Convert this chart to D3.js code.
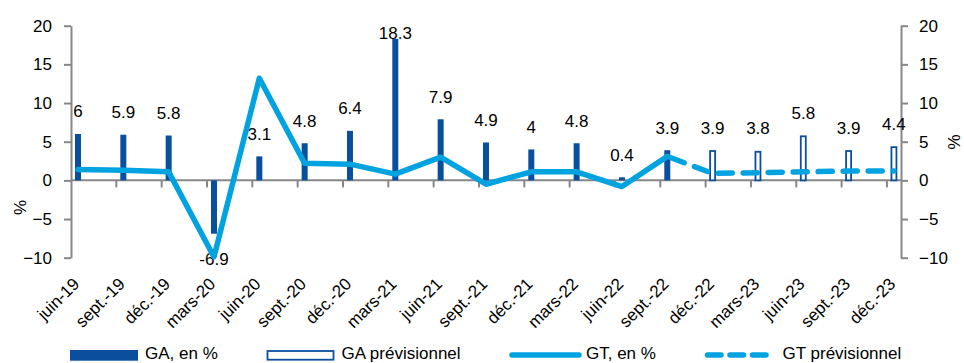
<!DOCTYPE html>
<html>
<head>
<meta charset="utf-8">
<script src="https://cdn.jsdelivr.net/npm/d3@7"></script>
<style>
  body { margin: 0; background: #fff; }
  svg { display: block; font-family: "Liberation Sans", Arial, sans-serif; }
</style>
</head>
<body>
<svg id="chart" width="964" height="363"></svg>
<script>
// Quarterly categories
const categories = ["juin-19", "sept.-19", "déc.-19", "mars-20", "juin-20", "sept.-20", "déc.-20",
  "mars-21", "juin-21", "sept.-21", "déc.-21", "mars-22", "juin-22", "sept.-22", "déc.-22",
  "mars-23", "juin-23", "sept.-23", "déc.-23"];

// GA, en % (realised) and GA prévisionnel (forecast)
const gaActual = [6, 5.9, 5.8, -6.9, 3.1, 4.8, 6.4, 18.3, 7.9, 4.9, 4, 4.8, 0.4, 3.9,
  null, null, null, null, null];
const gaForecast = [null, null, null, null, null, null, null, null, null, null, null, null, null, null,
  3.9, 3.8, 5.8, 3.9, 4.4];

// GT, en % (realised) and GT prévisionnel (forecast)
const gtActual = [1.4, 1.3, 1.1, -9.9, 13.2, 2.2, 2.1, 0.8, 3.0, -0.5, 1.1, 1.1, -0.8, 3.1,
  null, null, null, null, null];
const gtForecast = [null, null, null, null, null, null, null, null, null, null, null, null, null,
  3.1, 0.9, 1.0, 1.1, 1.2, 1.2];

const yTicks = [-10, -5, 0, 5, 10, 15, 20];

const legendItems = ["GA, en %", "GA prévisionnel", "GT, en %", "GT prévisionnel"];

// ---- styles ----
const DARK = "#0a4f9e";
const LIGHT = "#00a3e0";
const AXIS = "#878787";
const FONT = 17;

const svg = d3.select("#chart");
svg.append("rect").attr("width", 964).attr("height", 363).attr("fill", "#fff");

const left = 71, right = 901;
const step = 45.33;
const xBand = d3.scaleBand().domain(categories).range([left, left + step * categories.length]);
const px = c => xBand(c) + 7;          // where the quarter's bar and line point sit

const y = d3.scaleLinear().domain([-10, 20]).range([257.7, 25.7]);

// ---- axes ----
function styleAxis(g) {
  g.selectAll("path.domain").attr("stroke", AXIS).attr("stroke-width", 2);
  g.selectAll(".tick line").attr("stroke", AXIS).attr("stroke-width", 2);
  g.selectAll(".tick text").attr("fill", "#000").attr("font-size", FONT)
    .attr("font-family", "'Liberation Sans', Arial, sans-serif");
}

svg.append("g").attr("transform", `translate(${left},0)`)
  .call(d3.axisLeft(y).tickValues(yTicks).tickSize(7).tickSizeOuter(0).tickPadding(12))
  .call(styleAxis);

svg.append("g").attr("transform", `translate(${right},0)`)
  .call(d3.axisRight(y).tickValues(yTicks).tickSize(7).tickSizeOuter(0).tickPadding(11))
  .call(styleAxis);

// zero line with quarter ticks
const x0 = y(0);
svg.append("line").attr("x1", left).attr("x2", right).attr("y1", x0).attr("y2", x0)
  .attr("stroke", AXIS).attr("stroke-width", 2);
svg.append("g").selectAll("line").data(categories.slice(1)).join("line")
  .attr("x1", c => xBand(c)).attr("x2", c => xBand(c))
  .attr("y1", x0).attr("y2", x0 + 7)
  .attr("stroke", AXIS).attr("stroke-width", 2);

// category labels
svg.append("g").selectAll("text").data(categories).join("text")
  .attr("transform", c => `translate(${px(c) + 2.5},285) rotate(-45)`)
  .attr("text-anchor", "end")
  .attr("font-size", FONT).attr("fill", "#000")
  .text(c => c);

// axis titles
svg.append("text").attr("transform", "translate(26,207.5) rotate(-90)")
  .attr("text-anchor", "middle").attr("font-size", FONT).text("%");
svg.append("text").attr("transform", "translate(948,142) rotate(90)")
  .attr("text-anchor", "middle").attr("font-size", FONT).text("%");

// ---- bars ----
const barW = 6;
const actualBars = categories.map((c, i) => ({ c, v: gaActual[i] })).filter(d => d.v != null);
const forecastBars = categories.map((c, i) => ({ c, v: gaForecast[i] })).filter(d => d.v != null);

svg.append("g").selectAll("rect").data(actualBars).join("rect")
  .attr("x", d => px(d.c) - barW / 2).attr("width", barW)
  .attr("y", d => y(Math.max(0, d.v))).attr("height", d => Math.abs(y(d.v) - y(0)))
  .attr("fill", DARK);

svg.append("g").selectAll("rect").data(forecastBars).join("rect")
  .attr("x", d => px(d.c) - barW / 2 + 0.5).attr("width", barW - 1)
  .attr("y", d => y(Math.max(0, d.v)) + 0.8).attr("height", d => Math.abs(y(d.v) - y(0)) - 0.8)
  .attr("fill", "#fff").attr("stroke", DARK).attr("stroke-width", 1.8);

// bar value labels
const allBars = actualBars.concat(forecastBars);
svg.append("g").selectAll("text").data(allBars).join("text")
  .attr("x", d => px(d.c))
  .attr("y", d => d.v >= 0 ? Math.max(y(d.v) - 16.5, 38.5) : y(d.v) + 31)
  .attr("text-anchor", "middle").attr("font-size", FONT).attr("fill", "#000")
  .text(d => d.v);

// ---- lines ----
const line = d3.line()
  .defined(d => d.v != null)
  .x(d => px(d.c)).y(d => y(d.v));

svg.append("path")
  .datum(categories.map((c, i) => ({ c, v: gtActual[i] })))
  .attr("d", line).attr("fill", "none")
  .attr("stroke", LIGHT).attr("stroke-width", 5.5)
  .attr("stroke-linejoin", "round").attr("stroke-linecap", "round");

svg.append("path")
  .datum(categories.map((c, i) => ({ c, v: gtForecast[i] })))
  .attr("d", line).attr("fill", "none")
  .attr("stroke", LIGHT).attr("stroke-width", 5.5)
  .attr("stroke-dasharray", "14 11").attr("stroke-dashoffset", -4)
  .attr("stroke-linejoin", "round").attr("stroke-linecap", "round");

// ---- legend ----
const lg = svg.append("g");
lg.append("rect").attr("x", 70).attr("y", 350).attr("width", 68).attr("height", 10.7).attr("fill", DARK);
lg.append("rect").attr("x", 267.5).attr("y", 351).attr("width", 66).attr("height", 8.7)
  .attr("fill", "#fff").attr("stroke", DARK).attr("stroke-width", 1.8);
lg.append("line").attr("x1", 512).attr("x2", 579).attr("y1", 355).attr("y2", 355)
  .attr("stroke", LIGHT).attr("stroke-width", 5.5).attr("stroke-linecap", "round");
lg.append("line").attr("x1", 707.5).attr("x2", 766).attr("y1", 355).attr("y2", 355)
  .attr("stroke", LIGHT).attr("stroke-width", 5.5).attr("stroke-linecap", "round")
  .attr("stroke-dasharray", "13.5 9");

const legendX = [145, 341.5, 586, 782.5];
lg.selectAll("text").data(legendItems).join("text")
  .attr("x", (d, i) => legendX[i]).attr("y", 359)
  .attr("font-size", FONT).attr("fill", "#000")
  .text(d => d);
</script>
</body>
</html>
